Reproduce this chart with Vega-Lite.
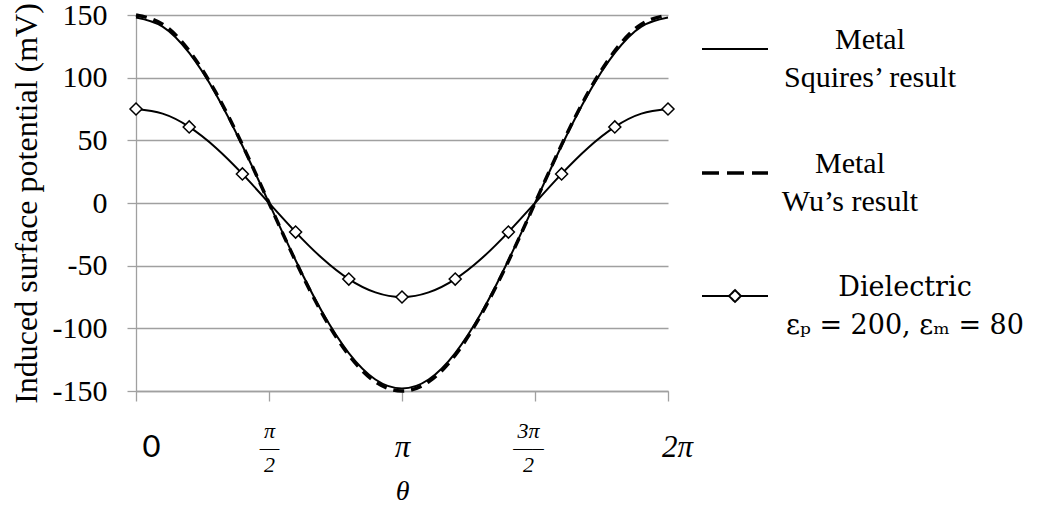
{
  "$schema": "https://vega.github.io/schema/vega-lite/v6.json",
  "width": 532,
  "height": 376,
  "autosize": "none",
  "padding": {"left": 136, "top": 15, "right": 370, "bottom": 115},
  "background": "white",
  "config": {"view": {"stroke": null}},
  "datasets": {
    "lines": [
      {"theta": 0, "value": 148, "series": "Squires"},
      {"theta": 0.31416, "value": 140.8, "series": "Squires"},
      {"theta": 0.62832, "value": 119.7, "series": "Squires"},
      {"theta": 0.94248, "value": 87.0, "series": "Squires"},
      {"theta": 1.25664, "value": 45.7, "series": "Squires"},
      {"theta": 1.5708, "value": 0, "series": "Squires"},
      {"theta": 1.88496, "value": -45.7, "series": "Squires"},
      {"theta": 2.19911, "value": -87.0, "series": "Squires"},
      {"theta": 2.51327, "value": -119.7, "series": "Squires"},
      {"theta": 2.82743, "value": -140.8, "series": "Squires"},
      {"theta": 3.14159, "value": -148, "series": "Squires"},
      {"theta": 3.45575, "value": -140.8, "series": "Squires"},
      {"theta": 3.76991, "value": -119.7, "series": "Squires"},
      {"theta": 4.08407, "value": -87.0, "series": "Squires"},
      {"theta": 4.39823, "value": -45.7, "series": "Squires"},
      {"theta": 4.71239, "value": 0, "series": "Squires"},
      {"theta": 5.02655, "value": 45.7, "series": "Squires"},
      {"theta": 5.34071, "value": 87.0, "series": "Squires"},
      {"theta": 5.65487, "value": 119.7, "series": "Squires"},
      {"theta": 5.96903, "value": 140.8, "series": "Squires"},
      {"theta": 6.28319, "value": 148, "series": "Squires"},
      {"theta": 0, "value": 150, "series": "Wu"},
      {"theta": 0.31416, "value": 142.7, "series": "Wu"},
      {"theta": 0.62832, "value": 121.4, "series": "Wu"},
      {"theta": 0.94248, "value": 88.2, "series": "Wu"},
      {"theta": 1.25664, "value": 46.4, "series": "Wu"},
      {"theta": 1.5708, "value": 0, "series": "Wu"},
      {"theta": 1.88496, "value": -46.4, "series": "Wu"},
      {"theta": 2.19911, "value": -88.2, "series": "Wu"},
      {"theta": 2.51327, "value": -121.4, "series": "Wu"},
      {"theta": 2.82743, "value": -142.7, "series": "Wu"},
      {"theta": 3.14159, "value": -150, "series": "Wu"},
      {"theta": 3.45575, "value": -142.7, "series": "Wu"},
      {"theta": 3.76991, "value": -121.4, "series": "Wu"},
      {"theta": 4.08407, "value": -88.2, "series": "Wu"},
      {"theta": 4.39823, "value": -46.4, "series": "Wu"},
      {"theta": 4.71239, "value": 0, "series": "Wu"},
      {"theta": 5.02655, "value": 46.4, "series": "Wu"},
      {"theta": 5.34071, "value": 88.2, "series": "Wu"},
      {"theta": 5.65487, "value": 121.4, "series": "Wu"},
      {"theta": 5.96903, "value": 142.7, "series": "Wu"},
      {"theta": 6.28319, "value": 150, "series": "Wu"},
      {"theta": 0, "value": 75, "series": "Dielectric"},
      {"theta": 0.31416, "value": 71.3, "series": "Dielectric"},
      {"theta": 0.62832, "value": 60.7, "series": "Dielectric"},
      {"theta": 0.94248, "value": 44.1, "series": "Dielectric"},
      {"theta": 1.25664, "value": 23.2, "series": "Dielectric"},
      {"theta": 1.5708, "value": 0, "series": "Dielectric"},
      {"theta": 1.88496, "value": -23.2, "series": "Dielectric"},
      {"theta": 2.19911, "value": -44.1, "series": "Dielectric"},
      {"theta": 2.51327, "value": -60.7, "series": "Dielectric"},
      {"theta": 2.82743, "value": -71.3, "series": "Dielectric"},
      {"theta": 3.14159, "value": -75, "series": "Dielectric"},
      {"theta": 3.45575, "value": -71.3, "series": "Dielectric"},
      {"theta": 3.76991, "value": -60.7, "series": "Dielectric"},
      {"theta": 4.08407, "value": -44.1, "series": "Dielectric"},
      {"theta": 4.39823, "value": -23.2, "series": "Dielectric"},
      {"theta": 4.71239, "value": 0, "series": "Dielectric"},
      {"theta": 5.02655, "value": 23.2, "series": "Dielectric"},
      {"theta": 5.34071, "value": 44.1, "series": "Dielectric"},
      {"theta": 5.65487, "value": 60.7, "series": "Dielectric"},
      {"theta": 5.96903, "value": 71.3, "series": "Dielectric"},
      {"theta": 6.28319, "value": 75, "series": "Dielectric"}
    ],
    "markers": [
      {"theta": 0, "value": 75},
      {"theta": 0.62832, "value": 60.7},
      {"theta": 1.25664, "value": 23.2},
      {"theta": 1.88496, "value": -23.2},
      {"theta": 2.51327, "value": -60.7},
      {"theta": 3.14159, "value": -75},
      {"theta": 3.76991, "value": -60.7},
      {"theta": 4.39823, "value": -23.2},
      {"theta": 5.02655, "value": 23.2},
      {"theta": 5.65487, "value": 60.7},
      {"theta": 6.28319, "value": 75}
    ]
  },
  "encoding": {
    "x": {
      "field": "theta",
      "type": "quantitative",
      "scale": {"domain": [0, 6.28319], "nice": false, "zero": false},
      "axis": {
        "title": "θ",
        "values": [0, 1.5707963, 3.1415927, 4.712389, 6.2831853],
        "grid": false,
        "domainColor": "#a0a0a0",
        "domainWidth": 1.3,
        "tickColor": "#a0a0a0",
        "tickWidth": 1.3,
        "tickSize": 10,
        "labelFlush": false,
        "labelOverlap": false,
        "labelBound": false,
        "labelColor": "black",
        "labelBaseline": "middle",
        "labelPadding": 29,
        "labelLineHeight": 17,
        "labelExpr": "abs(datum.value) < 0.01 ? ['', '0'] : abs(datum.value - PI/2) < 0.01 ? ['π', '—', '2'] : abs(datum.value - PI) < 0.01 ? ['', 'π'] : abs(datum.value - 3*PI/2) < 0.01 ? ['3π', '—–', '2'] : ['', '2π']",
        "labelFont": {"condition": {"test": "abs(datum.value) < 0.01", "value": "Lato"}, "value": "Liberation Serif"},
        "labelFontStyle": {"condition": {"test": "abs(datum.value) < 0.01", "value": "normal"}, "value": "italic"},
        "labelFontSize": {"condition": {"test": "abs(datum.value - PI/2) < 0.01 || abs(datum.value - 3*PI/2) < 0.01", "value": 22}, "value": 31},
        "labelOffset": {"condition": [{"test": "abs(datum.value) < 0.01", "value": 15}, {"test": "abs(datum.value - 2*PI) < 0.01", "value": 9}, {"test": "abs(datum.value - 3*PI/2) < 0.01", "value": -7}], "value": 0},
        "titleFont": "Liberation Serif",
        "titleFontStyle": "italic",
        "titleFontWeight": "normal",
        "titleFontSize": 28,
        "titleColor": "black",
        "titlePadding": 2
      }
    },
    "y": {
      "field": "value",
      "type": "quantitative",
      "scale": {"domain": [-150, 150], "nice": false},
      "axis": {
        "title": "Induced surface potential (mV)",
        "titleLimit": 600,
        "values": [-150, -100, -50, 0, 50, 100, 150],
        "labelExpr": "replace(datum.label, '−', '-')",
        "grid": true,
        "gridColor": "#a0a0a0",
        "gridWidth": 1.3,
        "domainColor": "#a0a0a0",
        "domainWidth": 1.3,
        "tickColor": "#a0a0a0",
        "tickWidth": 1.3,
        "tickSize": 9,
        "labelFont": "Liberation Serif",
        "labelFontSize": 30,
        "labelColor": "black",
        "labelPadding": 20,
        "titleFont": "Liberation Serif",
        "titleFontSize": 32,
        "titleFontWeight": "normal",
        "titleColor": "black",
        "titlePadding": 9
      }
    }
  },
  "layer": [
    {
      "data": {"name": "lines"},
      "transform": [{"filter": "datum.series != 'Wu'"}],
      "mark": {"type": "line", "interpolate": "natural", "color": "black"},
      "encoding": {
        "detail": {"field": "series"},
        "strokeWidth": {
          "field": "series",
          "type": "nominal",
          "scale": {"type": "ordinal", "domain": ["Squires", "Wu", "Dielectric"], "range": [2, 3.5, 2]},
          "legend": {
            "title": null,
            "orient": "right",
            "offset": 25,
            "padding": 0,
            "symbolType": "stroke",
            "symbolSize": 4356,
            "symbolStrokeColor": "black",
            "labelFont": "Liberation Serif",
            "labelFontSize": 30,
            "labelColor": "black",
            "labelBaseline": "alphabetic",
            "labelAlign": "center",
            "labelOffset": 100,
            "labelLimit": 400,
            "rowPadding": 45,
            "labelExpr": "datum.value == 'Squires' ? ['Metal', 'Squires’ result'] : datum.value == 'Wu' ? ['Metal', 'Wu’s result'] : ['Dielectric', 'εₚ = 200, εₘ = 80']",
            "encode": {
              "symbols": {
                "update": {
                  "shape": {"signal": "datum.value == 'Dielectric' ? 'M-1,0H-0.18M0.18,0H1M-0.18,0L0,-0.18L0.18,0L0,0.18Z' : 'stroke'"},
                  "strokeDash": {"signal": "datum.value == 'Wu' ? [17, 8] : [1, 0]"},
                  "fill": {"value": "white"},
                  "stroke": {"value": "black"}
                }
              },
              "labels": {
                "update": {
                  "lineHeight": {"value": 38},
                  "dx": {"signal": "datum.value == 'Wu' ? -20 : datum.value == 'Dielectric' ? 35 : 0"},
                  "font": {"signal": "datum.value == 'Dielectric' ? 'DejaVu Serif' : 'Liberation Serif'"},
                  "fontSize": {"signal": "datum.value == 'Dielectric' ? 27 : 30"}
                }
              }
            }
          }
        }
      }
    },
    {
      "data": {"name": "lines"},
      "transform": [{"filter": "datum.series == 'Wu'"}],
      "mark": {"type": "line", "interpolate": "natural", "color": "black", "strokeDash": [11, 7]},
      "encoding": {
        "strokeWidth": {
          "field": "series",
          "type": "nominal",
          "scale": {"type": "ordinal", "domain": ["Squires", "Wu", "Dielectric"], "range": [2, 3.5, 2]}
        }
      }
    },
    {
      "data": {"name": "markers"},
      "mark": {"type": "point", "shape": "diamond", "size": 144, "filled": false, "fill": "white", "fillOpacity": 1, "stroke": "black", "strokeWidth": 1.5, "opacity": 1}
    }
  ]
}
